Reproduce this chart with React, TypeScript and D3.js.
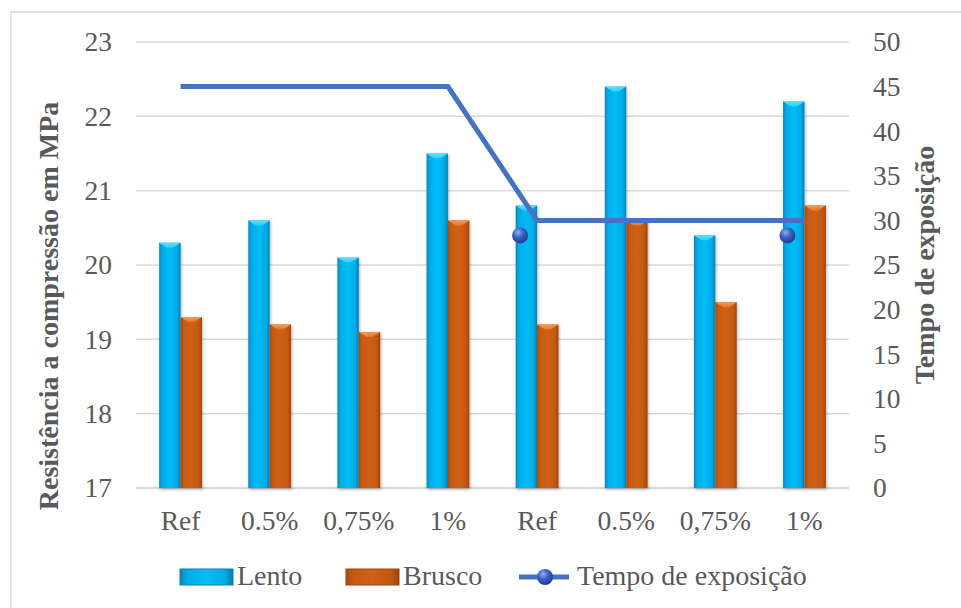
import React from "react";
import * as d3 from "d3";

const categories = ["Ref", "0.5%", "0,75%", "1%", "Ref", "0.5%", "0,75%", "1%"];
const lento = [20.3, 20.6, 20.1, 21.5, 20.8, 22.4, 20.4, 22.2];
const brusco = [19.3, 19.2, 19.1, 20.6, 19.2, 20.6, 19.5, 20.8];
const tempo = [45, 45, 45, 45, 30, 30, 30, 30];
const markerIdx = [4, 7];
const leftTicks = [17, 18, 19, 20, 21, 22, 23];
const rightTicks = [0, 5, 10, 15, 20, 25, 30, 35, 40, 45, 50];

const W = 961;
const H = 608;
const margin = { top: 42, bottom: 120, left: 136, right: 112 };
const font = "'Liberation Serif', 'Times New Roman', serif";
const txt = "#595959";

const App = () => {
  const x = d3
    .scaleBand<number>()
    .domain(d3.range(categories.length))
    .range([margin.left, W - margin.right]);
  const yL = d3.scaleLinear().domain([17, 23]).range([H - margin.bottom, margin.top]);
  const yR = d3.scaleLinear().domain([0, 50]).range([H - margin.bottom, margin.top]);
  const bw = x.bandwidth() * 0.24;
  const cx = (i: number) => (x(i) as number) + x.bandwidth() / 2;

  const line = d3
    .line<number>()
    .x((d, i) => cx(i))
    .y((d) => yR(d));

  const bar = (v: number, i: number, k: number, id: string) => {
    const x0 = cx(i) + (k === 0 ? -bw : 0);
    const top = yL(v);
    const bottom = yL(17);
    const bev = 5;
    return (
      <g key={id + i} filter="url(#shadow)">
        <rect x={x0} y={top} width={bw} height={bottom - top} fill={`url(#${id}Grad)`} />
        <path
          d={`M${x0},${top} L${x0 + bw},${top} L${x0 + bw / 2 + 3},${top + bev} L${x0 + bw / 2 - 3},${top + bev} Z`}
          fill={`url(#${id}Top)`}
        />
      </g>
    );
  };

  return (
    <svg
      width={W}
      height={H}
      style={{ position: "absolute", left: 0, top: 0, background: "#fff" }}
      fontFamily={font}
    >
      <defs>
        <linearGradient id="lentoGrad" x1="0" x2="1" y1="0" y2="0">
          <stop offset="0" stopColor="#0c86b6" />
          <stop offset="0.15" stopColor="#00acea" />
          <stop offset="0.5" stopColor="#06bdf5" />
          <stop offset="0.85" stopColor="#00a9e6" />
          <stop offset="1" stopColor="#0a7fae" />
        </linearGradient>
        <linearGradient id="lentoTop" x1="0" x2="0" y1="0" y2="1">
          <stop offset="0" stopColor="#5de0ff" />
          <stop offset="1" stopColor="#2ccdfb" />
        </linearGradient>
        <linearGradient id="bruscoGrad" x1="0" x2="1" y1="0" y2="0">
          <stop offset="0" stopColor="#a94a0c" />
          <stop offset="0.15" stopColor="#c65a12" />
          <stop offset="0.5" stopColor="#cf6016" />
          <stop offset="0.85" stopColor="#c45811" />
          <stop offset="1" stopColor="#9c440a" />
        </linearGradient>
        <linearGradient id="bruscoTop" x1="0" x2="0" y1="0" y2="1">
          <stop offset="0" stopColor="#f79a55" />
          <stop offset="1" stopColor="#e3762d" />
        </linearGradient>
        <radialGradient id="ball" cx="0.38" cy="0.32" r="0.7">
          <stop offset="0" stopColor="#8fb0f0" />
          <stop offset="0.45" stopColor="#3a63c9" />
          <stop offset="1" stopColor="#1c3990" />
        </radialGradient>
        <filter id="shadow" x="-30%" y="-10%" width="160%" height="120%">
          <feDropShadow dx="1" dy="1.5" stdDeviation="1.5" floodColor="#000" floodOpacity="0.3" />
        </filter>
      </defs>

      <rect x={11} y={12} width={W + 10} height={H + 10} fill="none" stroke="#d9d9d9" strokeWidth={1.5} />

      {leftTicks.map((t) => (
        <g key={"g" + t}>
          <line
            x1={margin.left}
            x2={W - margin.right}
            y1={yL(t)}
            y2={yL(t)}
            stroke="#d9d9d9"
            strokeWidth={t === 17 ? 2.5 : 1.5}
          />
          <text x={112} y={yL(t)} dy="0.34em" textAnchor="end" fontSize={27.5} fill={txt}>
            {t}
          </text>
        </g>
      ))}
      {rightTicks.map((t) => (
        <text key={"r" + t} x={873} y={yR(t)} dy="0.34em" fontSize={27.5} fill={txt}>
          {t}
        </text>
      ))}

      {lento.map((v, i) => bar(v, i, 0, "lento"))}
      {brusco.map((v, i) => bar(v, i, 1, "brusco"))}

      <path d={line(tempo) as string} fill="none" stroke="#4472c4" strokeWidth={5} />
      {markerIdx.map((i) => (
        <circle key={"m" + i} cx={cx(i) - 17} cy={yR(tempo[i]) + 15} r={8} fill="url(#ball)" />
      ))}

      {categories.map((c, i) => (
        <text key={"c" + i} x={cx(i)} y={530} textAnchor="middle" fontSize={27.5} fill={txt}>
          {c}
        </text>
      ))}

      <text
        transform={`translate(58,306) rotate(-90)`}
        textAnchor="middle"
        fontSize={28}
        fontWeight="bold"
        fill={txt}
      >
        Resistência a compressão em MPa
      </text>
      <text
        transform={`translate(934,265) rotate(-90)`}
        textAnchor="middle"
        fontSize={28}
        fontWeight="bold"
        fill={txt}
      >
        Tempo de exposição
      </text>

      <g>
        <rect x={180} y={569} width={53} height={16} fill="url(#lentoGrad)" stroke="#0a7fae" strokeWidth={1} />
        <text x={237} y={585} fontSize={28} fill={txt}>Lento</text>
        <rect x={346} y={569} width={53} height={16} fill="url(#bruscoGrad)" stroke="#9c440a" strokeWidth={1} />
        <text x={403} y={585} fontSize={28} fill={txt}>Brusco</text>
        <line x1={519} x2={569} y1={577} y2={577} stroke="#4472c4" strokeWidth={5} />
        <circle cx={545} cy={577} r={8} fill="url(#ball)" />
        <text x={577} y={585} fontSize={28} fill={txt}>Tempo de exposição</text>
      </g>
    </svg>
  );
};

export default App;
